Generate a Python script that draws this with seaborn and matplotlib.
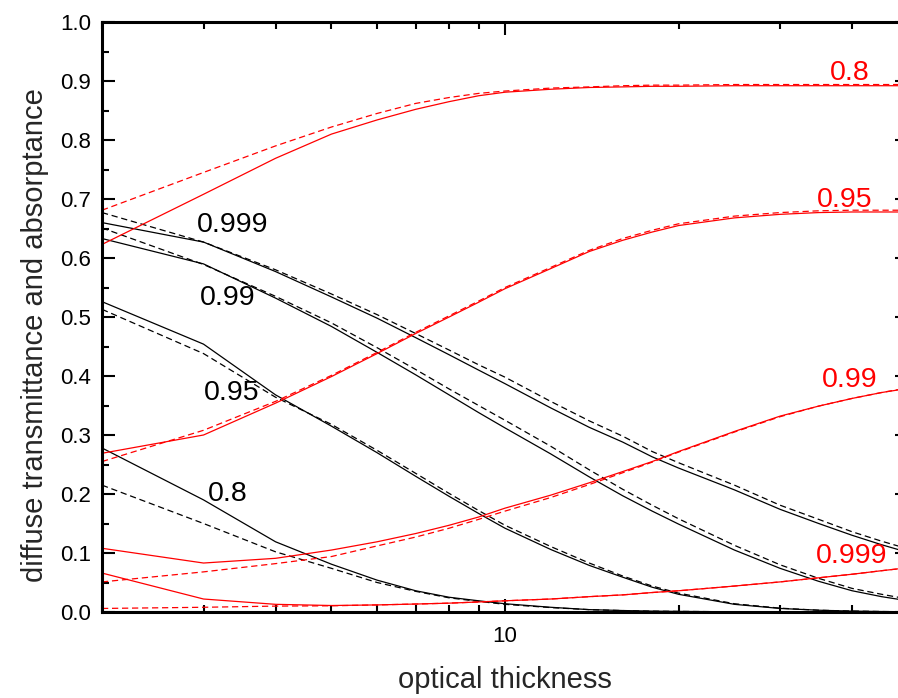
import matplotlib
matplotlib.use("Agg")
import matplotlib.pyplot as plt
from matplotlib.ticker import FixedLocator, NullFormatter, MultipleLocator, FormatStrFormatter
import seaborn as sns

# optical thickness grid
tau = [2, 3, 4, 5, 6, 7, 8, 9, 10, 12, 14, 16, 18, 20, 25, 30, 35, 40, 45, 50]

# diffuse transmittance (black), solid / dashed
trans_999 = [0.660, 0.627, 0.577, 0.534, 0.498, 0.465, 0.436, 0.410, 0.387, 0.346,
             0.313, 0.288, 0.263, 0.244, 0.207, 0.174, 0.150, 0.130, 0.114, 0.101]
trans_999_d = [0.677, 0.627, 0.580, 0.539, 0.504, 0.472, 0.444, 0.419, 0.398, 0.357,
               0.324, 0.298, 0.272, 0.253, 0.215, 0.181, 0.157, 0.136, 0.120, 0.107]
trans_99 = [0.633, 0.590, 0.532, 0.484, 0.440, 0.402, 0.368, 0.338, 0.312, 0.268,
            0.229, 0.197, 0.171, 0.149, 0.105, 0.074, 0.052, 0.036, 0.026, 0.019]
trans_99_d = [0.651, 0.589, 0.535, 0.490, 0.448, 0.411, 0.378, 0.350, 0.325, 0.281,
              0.241, 0.208, 0.181, 0.158, 0.113, 0.080, 0.057, 0.040, 0.030, 0.022]
trans_95 = [0.526, 0.454, 0.368, 0.315, 0.270, 0.230, 0.196, 0.167, 0.142, 0.106,
            0.079, 0.059, 0.042, 0.030, 0.013, 0.006, 0.003, 0.0015, 0.0008, 0.0004]
trans_95_d = [0.513, 0.438, 0.364, 0.318, 0.274, 0.235, 0.201, 0.172, 0.147, 0.111,
              0.083, 0.061, 0.044, 0.032, 0.014, 0.0065, 0.003, 0.0016, 0.0008, 0.0004]
trans_8 = [0.278, 0.190, 0.119, 0.081, 0.054, 0.036, 0.025, 0.019, 0.014, 0.008,
           0.004, 0.0025, 0.0015, 0.001, 0.0004, 0.0002, 0.0001, 0.0, 0.0, 0.0]
trans_8_d = [0.215, 0.150, 0.102, 0.074, 0.050, 0.035, 0.024, 0.018, 0.013, 0.0075,
             0.004, 0.0024, 0.0014, 0.001, 0.0004, 0.0002, 0.0001, 0.0, 0.0, 0.0]

# absorptance (red), solid / dashed
abs_8 = [0.623, 0.708, 0.769, 0.810, 0.834, 0.852, 0.865, 0.875, 0.881, 0.886,
         0.889, 0.890, 0.891, 0.891, 0.892, 0.892, 0.892, 0.892, 0.892, 0.892]
abs_8_d = [0.681, 0.745, 0.790, 0.822, 0.845, 0.862, 0.872, 0.879, 0.883, 0.888,
           0.890, 0.892, 0.893, 0.893, 0.894, 0.894, 0.894, 0.894, 0.894, 0.894]
abs_95 = [0.269, 0.300, 0.354, 0.399, 0.438, 0.472, 0.500, 0.525, 0.548, 0.582,
          0.611, 0.630, 0.644, 0.655, 0.668, 0.674, 0.677, 0.678, 0.678, 0.678]
abs_95_d = [0.255, 0.308, 0.357, 0.401, 0.440, 0.474, 0.502, 0.527, 0.550, 0.584,
            0.613, 0.633, 0.647, 0.658, 0.671, 0.677, 0.680, 0.681, 0.681, 0.681]
abs_99 = [0.108, 0.083, 0.091, 0.105, 0.119, 0.133, 0.147, 0.161, 0.176, 0.198,
          0.219, 0.238, 0.255, 0.272, 0.306, 0.332, 0.349, 0.362, 0.372, 0.379]
abs_99_d = [0.051, 0.068, 0.082, 0.094, 0.112, 0.127, 0.142, 0.157, 0.171, 0.194,
            0.216, 0.236, 0.254, 0.271, 0.305, 0.331, 0.349, 0.362, 0.372, 0.380]
abs_999 = [0.066, 0.022, 0.013, 0.011, 0.012, 0.0135, 0.015, 0.017, 0.019, 0.022,
           0.026, 0.029, 0.033, 0.036, 0.044, 0.051, 0.058, 0.064, 0.070, 0.075]
abs_999_d = [0.006, 0.008, 0.010, 0.0105, 0.012, 0.0135, 0.015, 0.017, 0.019, 0.022,
             0.026, 0.029, 0.033, 0.036, 0.044, 0.051, 0.058, 0.064, 0.070, 0.075]

# curve labels: (text, tau, value)
black_labels = [("0.999", 3.37, 0.656), ("0.99", 3.31, 0.532),
                ("0.95", 3.36, 0.371), ("0.8", 3.31, 0.200)]
red_labels = [("0.8", 39.6, 0.9135), ("0.95", 38.9, 0.698),
              ("0.99", 39.6, 0.393), ("0.999", 39.9, 0.0949)]

sns.set_style("ticks")
plt.rcParams['font.family'] = ['Liberation Sans', 'DejaVu Sans']

fig = plt.figure(figsize=(8.98, 6.98), dpi=100)
ax = fig.add_axes([102 / 898, 86 / 698, 806 / 898, 590 / 698])

black = [trans_999, trans_99, trans_95, trans_8]
black_d = [trans_999_d, trans_99_d, trans_95_d, trans_8_d]
red = [abs_8, abs_95, abs_99, abs_999]
red_d = [abs_8_d, abs_95_d, abs_99_d, abs_999_d]

for s, d in zip(black, black_d):
    sns.lineplot(x=tau, y=s, ax=ax, color='black', linewidth=0.9)
    sns.lineplot(x=tau, y=d, ax=ax, color='black', linewidth=0.9, linestyle=(0, (5, 3)))
for s, d in zip(red, red_d):
    sns.lineplot(x=tau, y=s, ax=ax, color='red', linewidth=0.9)
    sns.lineplot(x=tau, y=d, ax=ax, color='red', linewidth=0.9, linestyle=(0, (5, 3)))

for txt, x, y in black_labels:
    ax.text(x, y, txt, color='black', fontsize=20.5, ha='center', va='center')
for txt, x, y in red_labels:
    ax.text(x, y, txt, color='red', fontsize=20.5, ha='center', va='center')

ax.set_xscale('log')
ax.set_xlim(2, 50)
ax.set_ylim(0, 1.0)
ax.xaxis.set_major_locator(FixedLocator([10]))
ax.xaxis.set_minor_locator(FixedLocator([2, 3, 4, 5, 6, 7, 8, 9, 20, 30, 40]))
ax.xaxis.set_major_formatter(FormatStrFormatter('%d'))
ax.xaxis.set_minor_formatter(NullFormatter())
ax.yaxis.set_major_locator(MultipleLocator(0.1))
ax.yaxis.set_minor_locator(MultipleLocator(0.05))
ax.yaxis.set_major_formatter(FormatStrFormatter('%.1f'))

ax.tick_params(which='both', direction='in', top=True, right=True, width=1.5, colors='black')
ax.tick_params(which='major', length=9.5, labelsize=16)
ax.tick_params(which='minor', length=5)
ax.tick_params(axis='x', which='major', pad=10)
ax.tick_params(axis='y', which='major', pad=8)
for sp in ax.spines.values():
    sp.set_linewidth(2.2)
    sp.set_color('black')

ax.set_xlabel('optical thickness', fontsize=21, labelpad=14)
ax.set_ylabel('diffuse transmittance and absorptance', fontsize=21)
ax.yaxis.set_label_coords(-0.066, 0.47)

fig.savefig('out.png', dpi=100)
